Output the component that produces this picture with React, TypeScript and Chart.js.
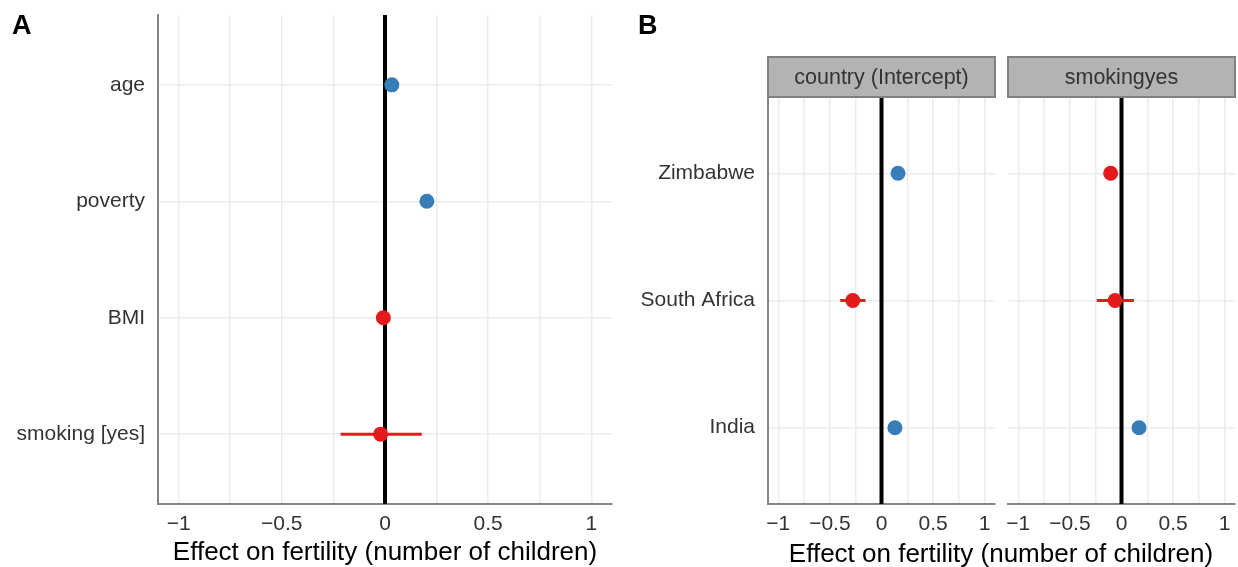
import React, { useEffect, useRef } from "react";
import { Chart, registerables } from "chart.js";

Chart.register(...registerables);

// ---------- data ----------
const termsA = ["age", "poverty", "BMI", "smoking [yes]"];
const estA = [0.033, 0.203, -0.008, -0.021];
const loA = [0.026, 0.195, -0.014, -0.215];
const hiA = [0.04, 0.211, -0.002, 0.178];

const countriesB = ["Zimbabwe", "South Africa", "India"];
const facetNames = ["country (Intercept)", "smokingyes"];
const estIntercept = [0.16, -0.278, 0.13];
const loIntercept = [0.152, -0.4, 0.122];
const hiIntercept = [0.168, -0.156, 0.138];
const estSmoking = [-0.105, -0.062, 0.17];
const loSmoking = [-0.113, -0.24, 0.162];
const hiSmoking = [-0.097, 0.12, 0.178];

const xMajorTicks = [-1, -0.5, 0, 0.5, 1];
const xTickLabels = ["\u22121", "\u22120.5", "0", "0.5", "1"];
const xMinorTicks = [-0.75, -0.25, 0.25, 0.75];
const xTitle = "Effect on fertility (number of children)";
const panelTags = ["A", "B"];

// ---------- style ----------
const BLUE = "#377EB8";
const RED = "#E41A1C";
const FONT = "'Liberation Sans', Arial, Helvetica, sans-serif";
const GRID = "#ebebeb";
const AXIS = "#858585";
const TEXT = "#333333";

type PanelOpts = {
  labels: string[];
  est: number[];
  lo: number[];
  hi: number[];
  yWidth: number;
  padTop: number;
  padRight: number;
  showYLabels: boolean;
  showYBorder: boolean;
  strip?: string;
  title?: string;
};

function makeConfig(o: PanelOpts): any {
  const n = o.labels.length;
  const yMin = 0.4;
  const yMax = n + 0.6;
  const allTicks = [...xMajorTicks, ...xMinorTicks].sort((a, b) => a - b);

  const datasets: any[] = [];
  datasets.push({
    data: o.est.map((v, i) => ({ x: v, y: i + 1 })),
    pointRadius: 7.5,
    pointBackgroundColor: o.est.map((v) => (v >= 0 ? BLUE : RED)),
    pointBorderWidth: 0,
    showLine: false,
  });
  o.lo.forEach((lo, i) => {
    datasets.push({
      data: [
        { x: lo, y: i + 1 },
        { x: o.hi[i], y: i + 1 },
      ],
      borderColor: o.est[i] >= 0 ? BLUE : RED,
      borderWidth: 3,
      pointRadius: 0,
      showLine: true,
    });
  });
  datasets.push({
    data: [
      { x: 0, y: yMin },
      { x: 0, y: yMax },
    ],
    borderColor: "#000000",
    borderWidth: 4,
    pointRadius: 0,
    showLine: true,
  });

  const stripPlugin = {
    id: "strip",
    afterDraw(chart: any) {
      if (!o.strip) return;
      const { ctx, chartArea } = chart;
      const top = 57;
      const h = chartArea.top - top;
      ctx.save();
      ctx.fillStyle = "#b3b3b3";
      ctx.fillRect(chartArea.left, top, chartArea.right - chartArea.left, h);
      ctx.strokeStyle = "#808080";
      ctx.lineWidth = 2;
      ctx.strokeRect(chartArea.left, top, chartArea.right - chartArea.left, h);
      ctx.fillStyle = TEXT;
      ctx.font = `21.5px ${FONT}`;
      ctx.textAlign = "center";
      ctx.textBaseline = "middle";
      ctx.fillText(o.strip, (chartArea.left + chartArea.right) / 2, top + h / 2 + 1);
      ctx.restore();
    },
  };

  return {
    type: "scatter",
    data: { datasets },
    plugins: [stripPlugin],
    options: {
      animation: false,
      responsive: false,
      layout: {
        autoPadding: false,
        padding: { top: o.padTop, right: o.padRight, left: 0, bottom: 0 },
      },
      plugins: { legend: { display: false }, tooltip: { enabled: false } },
      scales: {
        x: {
          type: "linear",
          min: -1.1,
          max: 1.1,
          afterBuildTicks: (scale: any) => {
            scale.ticks = allTicks.map((v) => ({ value: v }));
          },
          afterFit: (scale: any) => {
            scale.height = 63;
            scale.paddingLeft = 0;
            scale.paddingRight = 0;
          },
          grid: { color: GRID, lineWidth: 1.5, drawTicks: false },
          border: { display: true, color: AXIS, width: 2 },
          ticks: {
            autoSkip: false,
            maxRotation: 0,
            padding: 8,
            color: TEXT,
            font: { family: FONT, size: 21 },
            callback: (value: number) => {
              const idx = xMajorTicks.findIndex((t) => Math.abs(t - value) < 1e-9);
              return idx >= 0 ? xTickLabels[idx] : "";
            },
          },
          title: {
            display: !!o.title,
            text: o.title || "",
            color: "#000000",
            font: { family: FONT, size: 26, lineHeight: 1 },
            padding: { top: 0, bottom: 1 },
          },
        },
        y: {
          type: "linear",
          min: yMin,
          max: yMax,
          reverse: true,
          afterBuildTicks: (scale: any) => {
            scale.ticks = o.labels.map((_, i) => ({ value: i + 1 }));
          },
          afterFit: (scale: any) => {
            scale.width = o.yWidth;
            scale.paddingTop = 0;
            scale.paddingBottom = 0;
          },
          grid: { color: GRID, lineWidth: 1.5, drawTicks: false },
          border: { display: o.showYBorder, color: AXIS, width: 2 },
          ticks: {
            display: o.showYLabels,
            autoSkip: false,
            padding: 13,
            color: TEXT,
            font: { family: FONT, size: 21 },
            callback: (_v: number, i: number) => o.labels[i],
          },
        },
      },
    },
  };
}

function ChartCanvas(props: { cfg: PanelOpts; left: number; width: number }) {
  const ref = useRef<HTMLCanvasElement | null>(null);
  useEffect(() => {
    if (!ref.current) return;
    const chart = new Chart(ref.current, makeConfig(props.cfg));
    return () => chart.destroy();
  }, []);
  return (
    <canvas
      ref={ref}
      width={props.width}
      height={567}
      style={{ position: "absolute", left: props.left, top: 0, width: props.width, height: 567 }}
    />
  );
}

const tagStyle: React.CSSProperties = {
  position: "absolute",
  top: 10,
  fontFamily: FONT,
  fontWeight: "bold",
  fontSize: 27,
  lineHeight: "30px",
  color: "#000",
};

export default function App() {
  return (
    <div
      style={{
        position: "absolute",
        left: 0,
        top: 0,
        width: 1238,
        height: 567,
        background: "#ffffff",
        overflow: "hidden",
      }}
    >
      <ChartCanvas
        left={0}
        width={620}
        cfg={{
          labels: termsA,
          est: estA,
          lo: loA,
          hi: hiA,
          yWidth: 158,
          padTop: 15,
          padRight: 8,
          showYLabels: true,
          showYBorder: true,
          title: xTitle,
        }}
      />
      <ChartCanvas
        left={620}
        width={380}
        cfg={{
          labels: countriesB,
          est: estIntercept,
          lo: loIntercept,
          hi: hiIntercept,
          yWidth: 148,
          padTop: 97,
          padRight: 5,
          showYLabels: true,
          showYBorder: true,
          strip: facetNames[0],
        }}
      />
      <ChartCanvas
        left={1000}
        width={238}
        cfg={{
          labels: countriesB,
          est: estSmoking,
          lo: loSmoking,
          hi: hiSmoking,
          yWidth: 8,
          padTop: 97,
          padRight: 3,
          showYLabels: false,
          showYBorder: false,
          strip: facetNames[1],
        }}
      />
      <div style={{ ...tagStyle, left: 12 }}>{panelTags[0]}</div>
      <div style={{ ...tagStyle, left: 638 }}>{panelTags[1]}</div>
      <div
        style={{
          position: "absolute",
          left: 701,
          width: 600,
          top: 538,
          height: 30,
          lineHeight: "30px",
          textAlign: "center",
          fontFamily: FONT,
          fontSize: 26,
          color: "#000",
        }}
      >
        {xTitle}
      </div>
    </div>
  );
}
